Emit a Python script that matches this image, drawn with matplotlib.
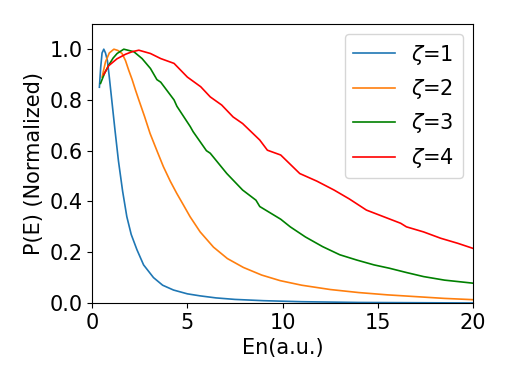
import numpy as np
import matplotlib
matplotlib.use("Agg")
import matplotlib.pyplot as plt

plt.rcParams.update({'font.size': 15})

# values
x1 = [0.38, 0.45, 0.52, 0.61, 0.7, 0.8, 0.9, 1.0, 1.1, 1.2, 1.38, 1.6, 1.82, 2.05, 2.35,
      2.7, 3.22, 3.7, 4.27, 5.0, 5.67, 6.5, 7.5, 9.0, 11.0, 14.0, 20.0]
p1 = [0.85, 0.93, 0.985, 1.0, 0.985, 0.955, 0.89, 0.82, 0.75, 0.68, 0.56, 0.44, 0.34, 0.27,
      0.21, 0.15, 0.10, 0.07, 0.051, 0.036, 0.028, 0.02, 0.014, 0.009, 0.005, 0.002, 0.0]

x2 = [0.52, 0.7, 0.9, 1.14, 1.35, 1.57, 1.75, 1.92, 2.1, 2.27, 2.45, 2.75, 3.04, 3.4, 3.74,
      4.1, 4.44, 4.8, 5.14, 5.67, 6.37, 7.1, 7.94, 8.9, 9.87, 11.0, 12.5, 14.0, 15.5, 17.0,
      18.5, 20.0]
p2 = [0.89, 0.95, 0.985, 1.0, 0.995, 0.983, 0.955, 0.917, 0.88, 0.84, 0.80, 0.735, 0.668,
      0.60, 0.537, 0.48, 0.432, 0.385, 0.34, 0.28, 0.22, 0.175, 0.14, 0.11, 0.088, 0.07,
      0.053, 0.041, 0.032, 0.025, 0.018, 0.013]

x3 = [0.44, 0.65, 0.87, 1.1, 1.31, 1.66, 2.19, 2.62, 3.06, 3.4, 3.6, 4.3, 4.45, 5.15, 5.3,
      6.0, 6.2, 7.07, 7.9, 8.6, 8.8, 9.9, 10.4, 11.2, 12.1, 13.0, 13.9, 14.8, 15.6, 16.5,
      17.4, 18.5, 20.0]
p3 = [0.865, 0.905, 0.937, 0.965, 0.983, 1.0, 0.99, 0.963, 0.924, 0.88, 0.87, 0.80, 0.775,
      0.695, 0.675, 0.60, 0.59, 0.51, 0.445, 0.405, 0.38, 0.33, 0.30, 0.26, 0.222, 0.19, 0.169,
      0.15, 0.137, 0.12, 0.104, 0.09, 0.078]

x4 = [0.61, 0.87, 1.3, 1.75, 2.1, 2.45, 3.06, 3.6, 4.3, 5.0, 5.7, 6.2, 6.8, 7.4, 7.9,
      8.8, 9.2, 9.9, 10.9, 11.8, 12.7, 13.5, 14.4, 15.3, 16.2, 16.5, 17.4, 18.3, 19.2, 20.0]
p4 = [0.90, 0.935, 0.962, 0.98, 0.99, 0.996, 0.983, 0.963, 0.944, 0.89, 0.852, 0.812,
      0.78, 0.733, 0.707, 0.642, 0.602, 0.583, 0.51, 0.48, 0.445, 0.41, 0.366, 0.34, 0.314,
      0.30, 0.28, 0.255, 0.235, 0.215]

xs = [x1, x2, x3, x4]
ps = [p1, p2, p3, p4]
labels = [r'$\zeta$=1', r'$\zeta$=2', r'$\zeta$=3', r'$\zeta$=4']
colors = ['tab:blue', 'tab:orange', 'g', 'r']

fig = plt.figure(figsize=(5.12, 3.84), dpi=100)
ax = fig.add_axes([0.18, 0.211, 0.744, 0.727])
for i in range(4):
	ax.plot(xs[i], ps[i], color=colors[i], label=labels[i], lw=1.2)
ax.set_xlim(0, 20)
ax.set_ylim(0, 1.1)
ax.set_xticks([0, 5, 10, 15, 20])
ax.set_yticks([0.0, 0.2, 0.4, 0.6, 0.8, 1.0])
ax.set_xlabel("En(a.u.)")
ax.set_ylabel("P(E) (Normalized)")
ax.legend(loc='upper right')
fig.savefig("out.png", dpi=100)
